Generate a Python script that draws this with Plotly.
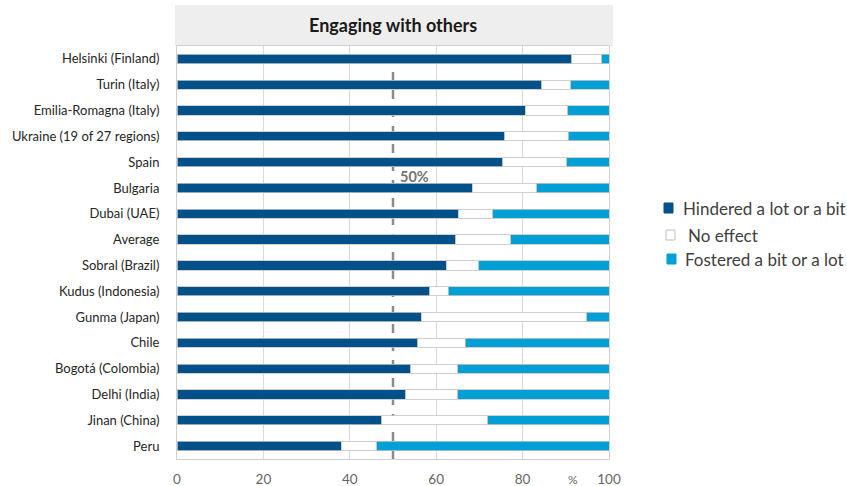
import plotly.graph_objects as go

# Share of respondents per place (percent), top to bottom
places = [
    "Helsinki (Finland)", "Turin (Italy)", "Emilia-Romagna (Italy)",
    "Ukraine (19 of 27 regions)", "Spain", "Bulgaria", "Dubai (UAE)",
    "Average", "Sobral (Brazil)", "Kudus (Indonesia)", "Gunma (Japan)",
    "Chile", "Bogotá (Colombia)", "Delhi (India)", "Jinan (China)", "Peru",
]
hindered = [91.4, 84.4, 80.6, 75.9, 75.4, 68.4, 65.1, 64.5, 62.3, 58.5, 56.5, 55.7, 54.1, 52.9, 47.4, 38.0]
no_effect = [6.9, 6.8, 9.8, 14.7, 14.8, 14.9, 8.0, 12.7, 7.5, 4.3, 38.3, 11.0, 10.9, 12.1, 24.5, 8.2]
fostered = [1.7, 8.8, 9.6, 9.4, 9.8, 16.7, 26.9, 22.8, 30.2, 37.2, 5.2, 33.3, 35.0, 35.0, 28.1, 53.8]

series_names = ["Hindered a lot or a bit", "No effect", "Fostered a bit or a lot"]
x_ticks = [0, 20, 40, 60, 80, 100]
reference_pct = 50

DARK = "#00508A"
LIGHT = "#00A0D6"
EDGE = "#C4C4C4"
FONT = "Lato, Open Sans, sans-serif"

W, H = 847, 486
ML, MR, MT, MB = 177, 238, 46, 27
PW, PH = W - ML - MR, H - MT - MB


def px_x(px):
    return (px - ML) / PW


def px_y(py):
    return 1 - (py - MT) / PH


fig = go.Figure()
for vals, name, color in zip([hindered, no_effect, fostered], series_names, [DARK, "#FFFFFF", LIGHT]):
    fig.add_trace(go.Bar(
        y=places, x=vals, name=name, orientation="h",
        marker=dict(color=color, line=dict(color=EDGE, width=0.8)),
        width=0.36, showlegend=False,
    ))

fig.update_layout(
    width=W, height=H, barmode="stack",
    margin=dict(l=ML, r=MR, t=MT, b=MB, autoexpand=False),
    paper_bgcolor="white", plot_bgcolor="white",
    font=dict(family=FONT, color="#262626"),
)
fig.update_xaxes(
    range=[0, 100], tickvals=x_ticks, showgrid=True, gridcolor="#D9D9D9", gridwidth=1,
    showline=True, linecolor="#D0D0D0", mirror=True, zeroline=False, automargin=False,
    tickfont=dict(size=13.5, color="#666666"), ticklabelstandoff=8,
)
fig.update_yaxes(
    autorange="reversed", showline=True, linecolor="#D0D0D0", mirror=True, automargin=False,
    tickfont=dict(size=13, color="#262626"), ticklabelstandoff=14, showgrid=False,
)

# Title band
fig.add_shape(type="rect", xref="paper", yref="paper",
              x0=px_x(175), x1=px_x(613), y0=1.0, y1=px_y(5),
              fillcolor="#EEEEEE", line=dict(width=0), layer="below")
fig.add_annotation(text="<b>Engaging with others</b>", xref="paper", yref="paper",
                   x=px_x(393), y=px_y(25), yanchor="middle", showarrow=False,
                   font=dict(size=18, color="#1A1A1A", family=FONT))

# 50% reference line
fig.add_shape(type="line", xref="x", yref="paper", x0=reference_pct, x1=reference_pct,
              y0=0, y1=1, line=dict(color="#8C8C8C", width=2.5, dash="dash"), layer="below")
fig.add_annotation(text=f"<b>{reference_pct}%</b>", xref="x", yref="y",
                   x=reference_pct, y=4.55, xanchor="left", xshift=5, showarrow=False,
                   font=dict(size=14.5, color="#737373", family=FONT))

# Unit label on the value axis
fig.add_annotation(text="%", xref="x", yref="paper", x=91.7, y=px_y(479),
                   yanchor="middle", showarrow=False,
                   font=dict(size=12, color="#666666", family=FONT))

# Legend
legend_rows = [
    (series_names[0], DARK, DARK, 664, 208, 681),
    (series_names[1], "#FFFFFF", "#BFBFBF", 666, 235, 686),
    (series_names[2], LIGHT, LIGHT, 667, 259, 683),
]
for name, fill, edge, sx, sy, tx in legend_rows:
    fig.add_shape(type="rect", xref="paper", yref="paper",
                  x0=px_x(sx), x1=px_x(sx + 9), y0=px_y(sy + 5), y1=px_y(sy - 5),
                  fillcolor=fill, line=dict(color=edge, width=1))
    fig.add_annotation(text=name, xref="paper", yref="paper", x=px_x(tx), y=px_y(sy),
                       xanchor="left", yanchor="middle", showarrow=False,
                       font=dict(size=17, color="#404040", family=FONT))

fig.write_html("out.html")
